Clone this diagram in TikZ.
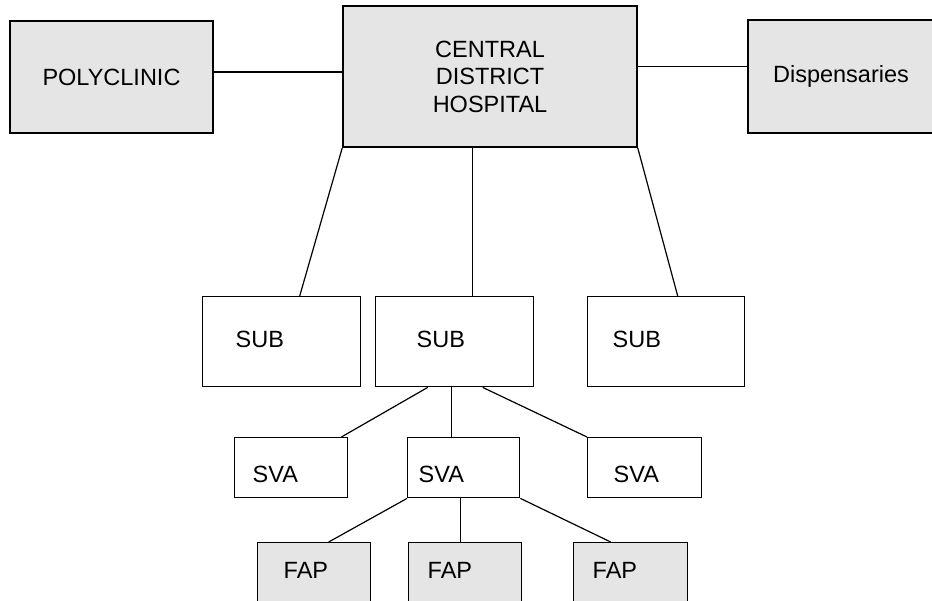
\documentclass[tikz,border=0pt]{standalone}
\usepackage{fontspec}
\setmainfont{Liberation Sans}
\definecolor{raster}{gray}{0.9}

\begin{document}
\begin{tikzpicture}[
    x=1pt,y=-1pt,
    every node/.style = {font=\fontsize{23.5}{27.5}\selectfont},
    hospbox/.style = {rectangle,draw,line width=1.4pt,fill=raster,align=center},
    low/.style     = {rectangle,draw,line width=1.4pt,anchor=north west,
                      align=left,inner ysep=0pt},
    subbox/.style  = {low,text height=51pt,text depth=39pt},
    svabox/.style  = {low,text height=45pt,text depth=15pt},
    fapbox/.style  = {low,fill=raster,text height=36pt,text depth=70pt},
    link/.style    = {line width=1.2pt},
  ]
  \useasboundingbox (0,0) rectangle (932,600);
  \clip (0,0) rectangle (932,600);

  % ── District level ───────────────────────────────────────────────────────
  \node[hospbox,minimum width=203pt,minimum height=112pt] (poly) at (111.5,77)
       {POLYCLINIC};
  \node[hospbox,minimum width=294pt,minimum height=141pt] (cdh)  at (490,76.5)
       {CENTRAL\\DISTRICT\\HOSPITAL};
  \node[hospbox,minimum width=186pt,minimum height=113pt] (disp) at (841,76.5)
       {Dispensaries};

  \draw[link] ([yshift=5pt]poly.east) -- ([yshift=5pt]poly.east -| cdh.west);
  \draw[link] ([yshift=10pt]cdh.east) -- ([yshift=10pt]cdh.east -| disp.west);

  % ── SUB ──────────────────────────────────────────────────────────────────
  \node[subbox,inner xsep=33pt,text width=92pt]  (sub1) at (202,296) {SUB};
  \node[subbox,inner xsep=41pt,text width=76pt]  (sub2) at (375,296) {SUB};
  \node[subbox,inner xsep=25pt,text width=107pt] (sub3) at (587,296) {SUB};

  \draw[link] (cdh.south west) -- ([xshift=18pt]sub1.north);
  \draw[link] ([xshift=18pt]sub2.north) -- ([xshift=18pt]sub2.north |- cdh.south);
  \draw[link] (cdh.south east) -- ([xshift=11.5pt]sub3.north);

  % ── SVA ──────────────────────────────────────────────────────────────────
  \node[svabox,inner xsep=18pt,text width=77pt] (sva1) at (234,437) {SVA};
  \node[svabox,inner xsep=11pt,text width=90pt] (sva2) at (407,437) {SVA};
  \node[svabox,inner xsep=26pt,text width=62pt] (sva3) at (587,437) {SVA};

  \draw[link] ([xshift=-27pt]sub2.south) -- ([xshift=-7pt]sva1.north east);
  \draw[link] ([xshift=-3pt]sub2.south) -- ([xshift=-3pt]sub2.south |- sva2.north);
  \draw[link] ([xshift=28pt]sub2.south) -- (sva3.north west);

  % ── FAP ──────────────────────────────────────────────────────────────────
  \node[fapbox,inner xsep=26pt,text width=61pt] (fap1) at (257,542) {FAP};
  \node[fapbox,inner xsep=19pt,text width=75pt] (fap2) at (408,542) {FAP};
  \node[fapbox,inner xsep=19pt,text width=76pt] (fap3) at (573,542) {FAP};

  \draw[link] (sva2.south west) -- ([xshift=14.5pt]fap1.north);
  \draw[link] ([xshift=-4.5pt]fap2.north) -- ([xshift=-4.5pt]fap2.north |- sva2.south);
  \draw[link] (sva2.south east) -- ([xshift=-20pt]fap3.north);

\end{tikzpicture}
\end{document}
